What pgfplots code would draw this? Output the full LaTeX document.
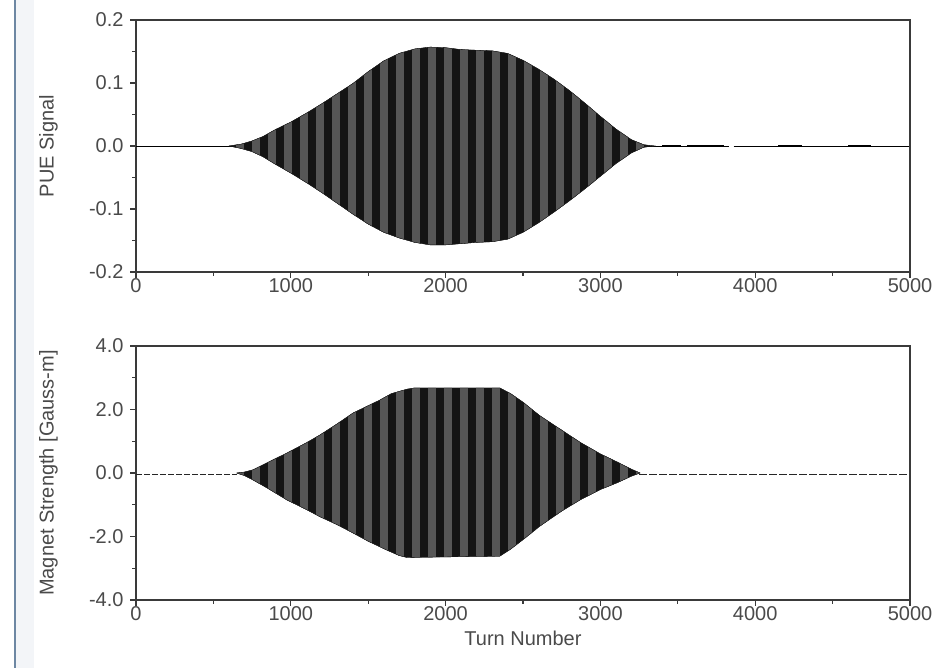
\documentclass[border=0pt]{standalone}
\usepackage{pgfplots}
\pgfplotsset{compat=1.18}
\usetikzlibrary{patterns.meta}
\usepackage{fontspec}
\setmainfont{Liberation Sans}
\definecolor{axc}{HTML}{3A3A3A}
\definecolor{txt}{HTML}{4A4A4A}
\definecolor{sig}{HTML}{141414}
\definecolor{stripe}{HTML}{565656}
\definecolor{bar}{HTML}{6D87A3}
\pgfplotsset{
  every axis/.append style={
    scale only axis,
    width=774bp,
    anchor=south west,
    xmin=0, xmax=5000,
    xtick={0,1000,...,5000},
    minor x tick num=1,
    minor y tick num=1,
    tick pos=left,
    tick align=outside,
    major tick length=6bp,
    minor tick length=4bp,
    axis line style={axc, line width=1.6bp},
    every tick/.style={axc, line width=1.2bp},
    tick label style={font=\fontsize{20bp}{23bp}\selectfont, text=txt},
    label style={font=\fontsize{20bp}{23bp}\selectfont, text=txt},
    /pgf/number format/assume math mode=true,
    xticklabel style={/pgf/number format/1000 sep={}, yshift=3bp},
    yticklabel style={/pgf/number format/fixed, /pgf/number format/fixed zerofill, /pgf/number format/precision=1, xshift=-3bp},
    ylabel style={at={(axis description cs:-0.113,0.5)}, anchor=center},
    clip=true,
  },
  sigfill/.style={fill=sig, draw=sig, line width=0.3bp,
    postaction={pattern={Lines[angle=90, distance=16bp, line width=8bp]}, pattern color=stripe}},
}
\begin{document}
\begin{tikzpicture}[x=1bp,y=1bp]
\useasboundingbox (0,0) rectangle (935,668);
\fill[bar!8] (16,0) rectangle (34,668);
\draw[bar, line width=2.2bp] (15,0) -- (15,668);

% ---------- top panel ----------
\begin{axis}[at={(136bp,396bp)}, height=252bp,
  ymin=-0.2, ymax=0.2, ytick={-0.2,-0.1,0,0.1,0.2},
  ylabel={PUE Signal}]
\addplot[black, line width=0.9bp] coordinates {(0,0) (3830,0)};
\addplot[black, line width=0.9bp] coordinates {(3860,0) (5000,0)};
\addplot[black, line width=1.8bp] coordinates {(3400,0) (3520,0)};
\addplot[black, line width=1.8bp] coordinates {(3560,0) (3800,0)};
\addplot[black, line width=1.6bp] coordinates {(4150,0) (4300,0)};
\addplot[black, line width=1.6bp] coordinates {(4600,0) (4750,0)};
\addplot[sigfill] coordinates {
 (600,0.000) (680,0.003) (750,0.008) (820,0.015) (900,0.026) (1000,0.038)
 (1100,0.052) (1200,0.067) (1300,0.083) (1400,0.099) (1500,0.118)
 (1600,0.135) (1700,0.147) (1800,0.154) (1900,0.157) (2000,0.156)
 (2100,0.153) (2200,0.152) (2300,0.151) (2400,0.147) (2500,0.136)
 (2600,0.122) (2700,0.106) (2800,0.088) (2900,0.068) (3000,0.047)
 (3100,0.027) (3200,0.010) (3280,0.002) (3350,0.000)
 (3280,-0.002) (3200,-0.011) (3100,-0.028) (3000,-0.048) (2900,-0.068)
 (2800,-0.087) (2700,-0.105) (2600,-0.122) (2500,-0.137) (2400,-0.148)
 (2300,-0.152) (2200,-0.153) (2100,-0.155) (2000,-0.157) (1900,-0.157)
 (1800,-0.153) (1700,-0.146) (1600,-0.137) (1500,-0.124) (1400,-0.108)
 (1300,-0.091) (1200,-0.074) (1100,-0.058) (1000,-0.043) (900,-0.029)
 (820,-0.017) (750,-0.009) (680,-0.004) (600,0.000)};
\end{axis}
\draw[axc, line width=1.6bp] (136,648) -- (910,648) -- (910,396);

% ---------- bottom panel ----------
\begin{axis}[at={(136bp,68bp)}, height=254bp,
  ymin=-4, ymax=4, ytick={-4,-2,0,2,4},
  xlabel={Turn Number},
  xlabel style={yshift=-3bp},
  ylabel={Magnet Strength [Gauss-m]}]
\addplot[black!85, line width=0.9bp, dash pattern=on 6bp off 2bp] coordinates {(0,-0.03) (650,-0.03)};
\addplot[black!85, line width=0.9bp, dash pattern=on 8bp off 2bp] coordinates {(3250,-0.03) (5000,-0.03)};
\addplot[sigfill] coordinates {
 (650,0.00) (700,0.03) (756,0.10) (850,0.33) (975,0.63) (1100,0.95)
 (1189,1.20) (1300,1.55) (1402,1.89) (1500,2.12) (1576,2.30) (1650,2.50)
 (1750,2.64) (1800,2.68) (2350,2.68) (2420,2.50) (2500,2.23) (2610,1.80)
 (2750,1.35) (2868,0.97) (3000,0.60) (3107,0.35) (3200,0.12) (3256,0.00)
 (3200,-0.10) (3107,-0.31) (3000,-0.52) (2868,-0.85) (2750,-1.20)
 (2610,-1.67) (2500,-2.10) (2420,-2.40) (2350,-2.62) (1750,-2.66)
 (1700,-2.60) (1621,-2.43) (1500,-2.15) (1402,-1.89) (1300,-1.63)
 (1189,-1.38) (1100,-1.15) (975,-0.85) (850,-0.48) (756,-0.22)
 (700,-0.08) (650,0.00)};
\end{axis}
\draw[axc, line width=1.6bp] (136,322) -- (910,322) -- (910,68);
\end{tikzpicture}
\end{document}
